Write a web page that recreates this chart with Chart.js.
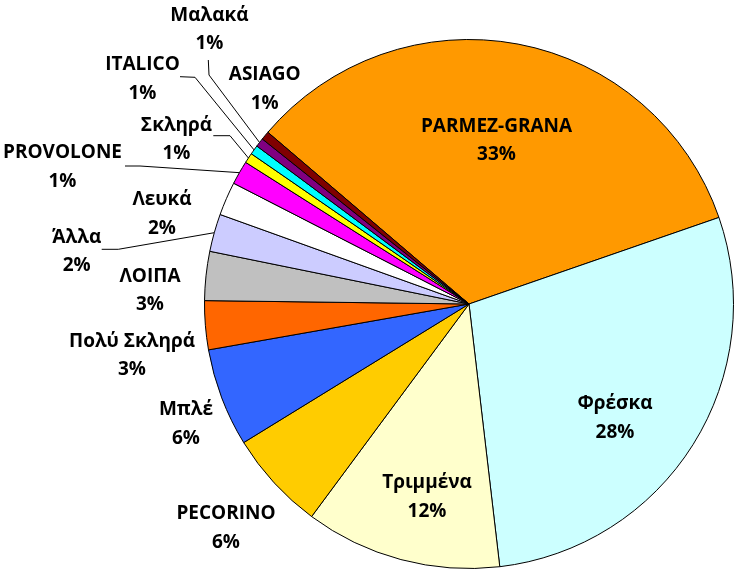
<!DOCTYPE html>
<html>
<head>
<meta charset="utf-8">
<script src="https://cdn.jsdelivr.net/npm/chart.js@4/dist/chart.umd.min.js"></script>
<style>
  html, body { margin: 0; padding: 0; background: #ffffff; }
  #wrap { width: 735px; height: 572px; }
</style>
</head>
<body>
<div id="wrap"><canvas id="c" width="735" height="572"></canvas></div>
<script>
// ---- data ----
const categories = ['PARMEZ-GRANA', 'Φρέσκα', 'Τριμμένα', 'PECORINO', 'Μπλέ', 'Πολύ Σκληρά', 'ΛΟΙΠΑ', 'Άλλα', 'Λευκά', 'PROVOLONE', 'Σκληρά', 'ITALICO', 'Μαλακά', 'ASIAGO'];
const values = [33.45, 28.45, 12.0, 6.08, 6.0, 2.98, 2.99, 2.3, 2.05, 1.45, 0.62, 0.57, 0.54, 0.52];
const colors = ['#FF9900', '#CCFFFF', '#FFFFCC', '#FFCC00', '#3366FF', '#FF6600', '#C0C0C0', '#CCCCFF', '#FFFFFF', '#FF00FF', '#FFFF00', '#00FFFF', '#800080', '#800000'];

// ---- label layout (relative to pie centre, in px at reference radius) ----
const REF_R = 264.5;
const labelLayout = [
  [27.5, -172.3], [146, 105.3], [-42, 184.3], [-243, 215.3], [-283, 111],
  [-337, 42.7], [-319, -22.3], [-392.3, -61.3], [-307, -99], [-406.5, -145.7],
  [-292.5, -173.3], [-326.5, -234], [-259.5, -283.3], [-204.3, -224]
];
const leaderLayout = {
  7: [-367.3, -54.7, -350.7, -54.7],
  9: [-344, -138, -329, -138],
  10: [-255.7, -168.3, -239, -168.3],
  11: [-289, -227.3, -274, -226.7],
  12: [-260.7, -244, -260, -229]
};

const labelPlugin = {
  id: 'sliceLabels',
  afterDatasetsDraw(chart) {
    const ctx = chart.ctx;
    const arcs = chart.getDatasetMeta(0).data;
    const cx = arcs[0].x, cy = arcs[0].y, r = arcs[0].outerRadius;
    const s = r / REF_R;
    const total = values.reduce((a, b) => a + b, 0);
    ctx.save();
    ctx.strokeStyle = '#000000';
    ctx.lineWidth = 1;
    arcs.forEach((arc, i) => {
      const L = leaderLayout[i];
      if (!L) return;
      const mid = (arc.startAngle + arc.endAngle) / 2;
      const ex = cx + Math.cos(mid) * r, ey = cy + Math.sin(mid) * r;
      ctx.beginPath();
      ctx.moveTo(cx + L[0] * s, cy + L[1] * s);
      ctx.lineTo(cx + L[2] * s, cy + L[3] * s);
      ctx.lineTo(ex, ey);
      ctx.stroke();
    });
    ctx.font = 'bold 19px "Open Sans"';
    ctx.textAlign = 'center';
    ctx.textBaseline = 'alphabetic';
    ctx.fillStyle = '#000000';
    arcs.forEach((arc, i) => {
      const P = labelLayout[i];
      const x = cx + P[0] * s, y = cy + P[1] * s;
      ctx.fillText(categories[i], x, y);
      ctx.fillText(Math.round(values[i] / total * 100) + '%', x, y + 28.7);
    });
    ctx.restore();
  }
};

new Chart(document.getElementById('c'), {
  type: 'pie',
  data: {
    labels: categories,
    datasets: [{
      data: values,
      backgroundColor: colors,
      borderColor: '#000000',
      borderWidth: 1
    }]
  },
  options: {
    responsive: false,
    animation: false,
    rotation: -49.52,
    layout: { padding: { left: 204, top: 39, right: 1, bottom: 3 } },
    plugins: {
      legend: { display: false },
      tooltip: { enabled: false }
    }
  },
  plugins: [labelPlugin]
});
</script>
</body>
</html>
